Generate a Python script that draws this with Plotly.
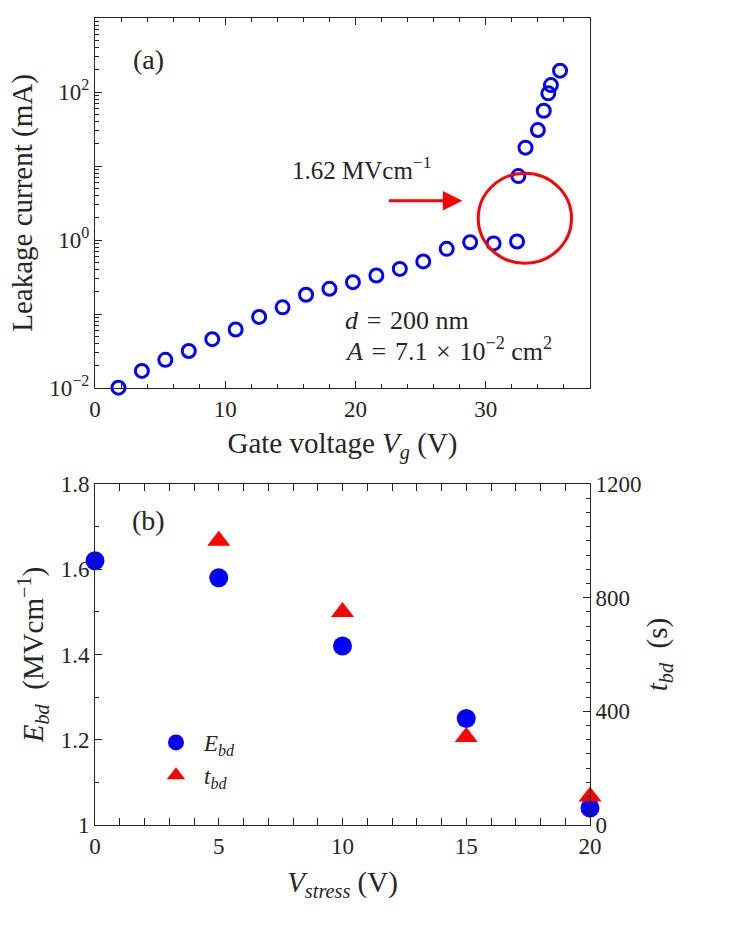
import plotly.graph_objects as go

W, H = 736, 930

# ---------- data (a) ----------
vg = [1.8, 3.6, 5.4, 7.2, 9.0, 10.8, 12.6, 14.4, 16.2, 18.0, 19.8, 21.6, 23.4, 25.2,
      27.0, 28.8, 30.6, 32.4, 32.5, 33.05, 34.0, 34.45, 34.8, 35.0, 35.7]
ileak = [0.0101, 0.0170, 0.024, 0.0316, 0.0457, 0.0617, 0.0912, 0.123, 0.182, 0.219,
         0.269, 0.331, 0.407, 0.513, 0.759, 0.933, 0.90, 0.955,
         7.3, 17.7, 30.6, 55.8, 95.9, 124, 194]

# ---------- data (b) ----------
vstress = [0, 5, 10, 15, 20]
ebd = [1.62, 1.58, 1.42, 1.25, 1.04]
vstress_t = [5, 10, 15, 20]
tbd = [1000, 750, 310, 100]

ya_vals = [0.01, 0.1, 1, 10, 100, 1000]
ya_text = ["10<sup>\u22122</sup>", "", "10<sup>0</sup>", "", "10<sup>2</sup>", ""]
yb_vals = [1, 1.2, 1.4, 1.6, 1.8]
yb_text = ["1", "1.2", "1.4", "1.6", "1.8"]

FONT = "Liberation Serif"
AX = "#262626"
BLUE = "#0000FF"
RED = "#FF0000"
TICK = 23
TITLE = 29
NOTE = 25
SP = " \u200a"

def px(x):
    return x / W

def py(y):
    return 1 - y / H

fig = go.Figure()

fig.add_trace(go.Scatter(
    x=vg, y=ileak, mode="markers", xaxis="x", yaxis="y", cliponaxis=False,
    marker=dict(symbol="circle-open", size=13, color=BLUE, line=dict(width=3, color=BLUE)),
    showlegend=False))

fig.add_trace(go.Scatter(
    x=vstress, y=ebd, mode="markers", xaxis="x2", yaxis="y2", cliponaxis=False,
    name="<i>E</i><sub><i>bd</i></sub>",
    marker=dict(symbol="circle", size=19, color=BLUE)))

fig.add_trace(go.Scatter(
    x=vstress_t, y=tbd, mode="markers", xaxis="x2", yaxis="y3", cliponaxis=False,
    name="<i>t</i><sub><i>bd</i></sub>",
    marker=dict(symbol="triangle-up", size=20, color=RED)))

common = dict(showline=True, linecolor=AX, linewidth=1, ticks="inside", ticklen=7,
              tickcolor=AX, tickfont=dict(size=TICK, color=AX, family=FONT),
              showgrid=False, zeroline=False, automargin=False)

def ttl(text, standoff):
    return dict(text=text, font=dict(size=TITLE, family=FONT, color=AX), standoff=standoff)

xd = [px(95), px(590)]

fig.update_layout(
    width=W, height=H,
    margin=dict(l=0, r=0, t=0, b=0),
    paper_bgcolor="white", plot_bgcolor="white",
    font=dict(family=FONT, size=TICK, color=AX),
    xaxis=dict(domain=xd, anchor="y", range=[0, 38], dtick=10, tick0=0,
               mirror="allticks",
               minor=dict(dtick=2, ticks="inside", ticklen=4, tickcolor=AX),
               title=ttl("Gate voltage <i>V</i><sub><i>g</i></sub> (V)", 12),
               **common),
    yaxis=dict(domain=[py(388), py(18)], anchor="x", type="log", range=[-2, 3],
               tickmode="array", tickvals=ya_vals, ticktext=ya_text, mirror=True,
               minor=dict(dtick="D1", ticks="inside", ticklen=4, tickcolor=AX),
               title=ttl("Leakage current (mA)", 8),
               **common),
    xaxis2=dict(domain=xd, anchor="y2", range=[0, 20], dtick=5, tick0=0,
                mirror="allticks",
                minor=dict(dtick=1, ticks="inside", ticklen=4, tickcolor=AX),
                title=ttl("<i>V</i><sub><i>stress</i></sub> (V)", 14),
                **common),
    yaxis2=dict(domain=[py(825), py(484)], anchor="x2", range=[1, 1.8],
                tickmode="array", tickvals=yb_vals, ticktext=yb_text,
                minor=dict(dtick=0.1, tick0=1, ticks="inside", ticklen=4, tickcolor=AX),
                title=ttl("<i>E</i><sub><i>bd</i></sub>  (MVcm<sup>\u22121</sup>)", 8),
                **common),
    yaxis3=dict(overlaying="y2", side="right", anchor="x2", range=[0, 1200], dtick=400, tick0=0,
                minor=dict(dtick=50, tick0=0, ticks="inside", ticklen=4, tickcolor=AX),
                title=ttl("<i>t</i><sub><i>bd</i></sub>  (s)", 6),
                **common),
    legend=dict(x=px(148), y=py(721), xanchor="left", yanchor="top",
                bgcolor="rgba(0,0,0,0)", font=dict(size=23, family=FONT, color=AX),
                tracegroupgap=0, itemwidth=46),
    showlegend=True,
)

# red circle around breakdown region (data coordinates)
fig.add_shape(type="circle", xref="x", yref="y", x0=29.42, x1=36.58, y0=0.484, y1=7.96,
              line=dict(color=RED, width=3))

# arrow
fig.add_annotation(xref="x", yref="y", x=28.2, y=0.53, ax=-75, ay=0,
                   showarrow=True, arrowhead=2, arrowsize=1.3, arrowwidth=3,
                   arrowcolor=RED, text="")

def txt(x, y, s, size=NOTE, xanchor="center"):
    fig.add_annotation(xref="paper", yref="paper", x=px(x), y=py(y), text=s,
                       showarrow=False, xanchor=xanchor, yanchor="middle",
                       font=dict(size=size, family=FONT, color=AX))

txt(148, 59, "(a)", 28)
txt(361, 168, "1.62 MVcm<sup>\u22121</sup>")
txt(343, 320, "<i>d</i>" + SP + "=" + SP + "200 nm", 26, "left")
txt(343, 349, "<i>A</i>" + SP + "=" + SP + "7.1" + SP + "\u00d7" + SP +
    "10<sup>\u22122</sup> cm<sup>2</sup>", 26, "left")
txt(148, 520, "(b)", 28)

fig.write_html("out.html")
